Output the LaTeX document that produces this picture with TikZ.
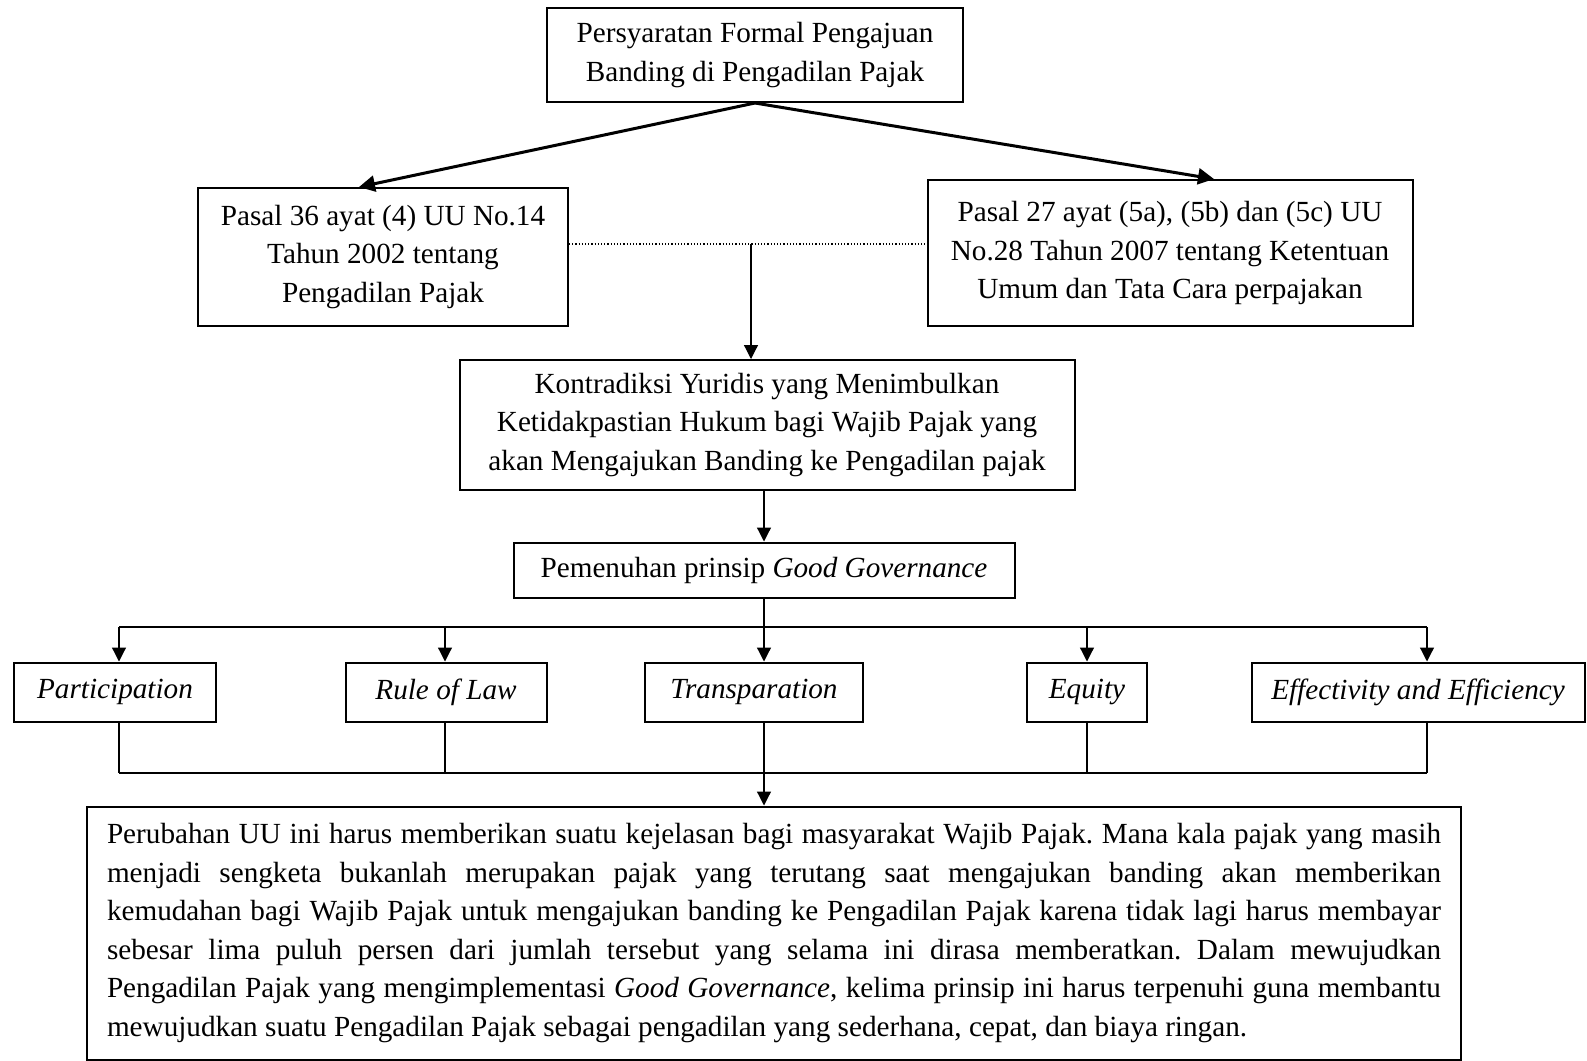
\documentclass[tikz,border=0pt]{standalone}
\usepackage{fontspec}
\setmainfont{Liberation Serif}
\usetikzlibrary{positioning,arrows.meta,calc}
\frenchspacing

\begin{document}
\begin{tikzpicture}[
    x=0.5pt, y=-0.5pt,
    font=\fontsize{14.6}{19.25}\selectfont,
    box/.style={draw, line width=1pt, align=center, inner sep=0pt},
    prbox/.style={box, minimum width=#1, minimum height=29.5pt, font=\fontsize{14.6}{19.25}\selectfont\itshape},
    arr/.style={-{Triangle[length=7pt, width=7pt]}, line width=0.6pt},
    tarr/.style={-{Triangle[length=8pt, width=8pt]}, line width=1.5pt},
    bus/.style={line width=1pt},
  ]
    \useasboundingbox (0,0) rectangle (1587,1061);

    \node[box, minimum width=208pt, minimum height=47pt] (syarat) at (755,55)
        {Persyaratan Formal Pengajuan\\Banding di Pengadilan Pajak};
    \node[box, minimum width=185pt, minimum height=69pt] (uupp) at (383,257)
        {Pasal 36 ayat (4) UU No.14\\Tahun 2002 tentang\\Pengadilan Pajak};
    \node[box, minimum width=242.5pt, minimum height=73pt] (uukup) at (1170,253)
        {Pasal 27 ayat (5a), (5b) dan (5c) UU\\No.28 Tahun 2007 tentang Ketentuan\\Umum dan Tata Cara perpajakan};
    \node[box, minimum width=307.5pt, minimum height=65pt] (kontra) at (767,425)
        {Kontradiksi Yuridis yang Menimbulkan\\Ketidakpastian Hukum bagi Wajib Pajak yang\\akan Mengajukan Banding ke Pengadilan pajak};
    \node[box, minimum width=250.5pt, minimum height=27.5pt] (gg) at (764,570)
        {Pemenuhan prinsip \textit{Good Governance}};

    % five principles
    \node[prbox=101pt]   (part)  at (115,692)  {Participation};
    \node[prbox=100.5pt] (rol)   at (446,692)  {Rule of Law};
    \node[prbox=109pt]   (trans) at (754,692)  {Transparation};
    \node[prbox=60pt]    (eq)    at (1087,692) {Equity};
    \node[prbox=166.5pt] (eff)   at (1418,692) {Effectivity and Efficiency};

    \node[box, text width=667pt, inner xsep=10pt, minimum height=126.5pt, align=justify] (hasil) at (774,933)
        {Perubahan UU ini harus memberikan suatu kejelasan bagi masyarakat Wajib Pajak. Mana kala pajak yang masih\linebreak
         menjadi sengketa bukanlah merupakan pajak yang terutang saat mengajukan banding akan memberikan\linebreak
         kemudahan bagi Wajib Pajak untuk mengajukan banding ke Pengadilan Pajak karena tidak lagi harus membayar\linebreak
         sebesar lima puluh persen dari jumlah tersebut yang selama ini dirasa memberatkan. Dalam mewujudkan\linebreak
         Pengadilan Pajak yang mengimplementasi \textit{Good Governance}, kelima prinsip ini harus terpenuhi guna membantu\linebreak
         mewujudkan suatu Pengadilan Pajak sebagai pengadilan yang sederhana, cepat, dan biaya ringan.};

    % top split
    \draw[tarr] (syarat.south) -- ([xshift=-12pt]uupp.north);
    \draw[tarr] (syarat.south) -- ([xshift=22pt]uukup.north);

    % both laws meet
    \coordinate (temu) at (751,244);
    \draw[densely dotted, line width=0.6pt] (uupp.east |- temu) -- (uukup.west |- temu);
    \draw[arr] (temu) -- (temu |- kontra.north);
    \draw[arr] (gg |- kontra.south) -- (gg.north);

    % bus to the principles
    \coordinate (atas) at (764,627);
    \draw[line width=0.6pt] (gg.south) -- (atas);
    \draw[bus] (119,627) coordinate (a1) -- (1427,627) coordinate (a5);
    \coordinate (a2) at (445,627);
    \coordinate (a4) at (1087,627);
    \draw[arr] (a1) -- (a1 |- part.north);
    \draw[arr] (a2) -- (a2 |- rol.north);
    \draw[arr] (atas) -- (atas |- trans.north);
    \draw[arr] (a4) -- (a4 |- eq.north);
    \draw[arr] (a5) -- (a5 |- eff.north);

    % bus from the principles
    \coordinate (bawah) at (764,773);
    \draw[bus] (119,773) -- (1427,773);
    \draw[line width=0.6pt] (a1 |- part.south) -- (a1 |- bawah);
    \draw[line width=0.6pt] (a2 |- rol.south) -- (a2 |- bawah);
    \draw[line width=0.6pt] (atas |- trans.south) -- (bawah);
    \draw[line width=0.6pt] (a4 |- eq.south) -- (a4 |- bawah);
    \draw[line width=0.6pt] (a5 |- eff.south) -- (a5 |- bawah);
    \draw[arr] (bawah) -- (hasil.north -| bawah);
\end{tikzpicture}
\end{document}
